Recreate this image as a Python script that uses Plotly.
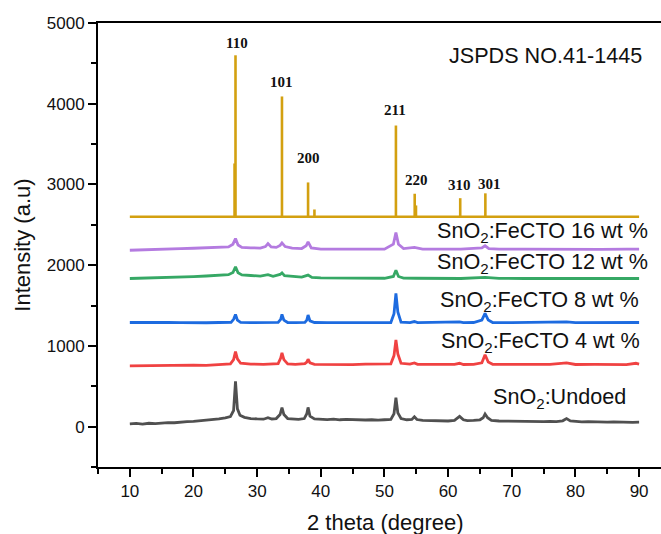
import plotly.graph_objects as go

# ---------------- data ----------------
undoped_x = [10, 11, 12, 13, 14, 15, 16, 17, 18, 19, 20, 21, 22, 23, 24, 25, 25.8, 26.3, 26.6, 26.9, 27.3, 28, 29, 30, 31, 31.7, 32.3, 33, 33.6, 33.9, 34.2, 34.8, 35.5, 36.5, 37.4, 37.8, 38.0, 38.3, 39, 40, 41, 42, 43, 44, 45, 46, 47, 48, 49, 50, 51, 51.5, 51.8, 52.1, 52.6, 53.5, 54.3, 54.7, 55.1, 56, 57, 58, 59, 60, 61, 61.8, 62.4, 63, 64, 65, 65.5, 65.8, 66.2, 66.8, 68, 69, 70, 71, 72, 73, 74, 75, 76, 77, 78, 78.6, 79.2, 80, 81, 82, 83, 84, 85, 86, 87, 88, 89, 90]
undoped_y = [35, 40, 30, 42, 38, 45, 50, 48, 58, 62, 65, 72, 78, 88, 95, 110, 125, 200, 560, 220, 140, 115, 100, 95, 92, 110, 95, 100, 150, 235, 150, 100, 95, 90, 100, 160, 238, 130, 95, 90, 88, 92, 85, 90, 85, 88, 82, 85, 80, 85, 90, 160, 360, 170, 100, 85, 90, 122, 88, 78, 75, 72, 70, 70, 78, 127, 85, 75, 78, 85, 110, 157, 110, 78, 70, 68, 65, 68, 65, 62, 65, 62, 65, 62, 72, 99, 70, 62, 60, 62, 58, 60, 56, 58, 55, 56, 54, 55]

w4_x = [10, 12, 14, 16, 18, 20, 22, 24, 25.8, 26.3, 26.6, 26.9, 27.4, 29, 31, 33.3, 33.7, 33.9, 34.2, 34.8, 36, 37.5, 37.8, 38.0, 38.3, 39, 41, 43, 45, 47, 49, 51, 51.5, 51.8, 52.1, 52.6, 54, 54.7, 55.2, 57, 59, 61, 61.8, 62.4, 64, 65.3, 65.8, 66.3, 67, 70, 73, 76, 78.6, 80, 83, 86, 88, 89.5, 90]
w4_y = [752, 755, 750, 758, 756, 762, 760, 770, 778, 830, 930, 840, 785, 775, 772, 780, 850, 915, 830, 778, 772, 780, 800, 835, 790, 772, 770, 775, 768, 775, 772, 778, 880, 1075, 900, 785, 775, 790, 772, 770, 775, 772, 785, 770, 772, 790, 890, 800, 772, 770, 775, 772, 790, 770, 772, 770, 768, 785, 775]

w8_x = [10, 12, 14, 16, 18, 20, 22, 24, 25.9, 26.3, 26.6, 26.9, 27.4, 29, 31, 33.3, 33.7, 33.9, 34.2, 34.8, 36, 37.5, 37.8, 38.0, 38.3, 39, 41, 43, 45, 47, 49, 51, 51.5, 51.8, 52.1, 52.6, 54, 54.7, 55.2, 57, 59, 61, 61.8, 62.4, 64, 65.3, 65.8, 66.3, 67, 70, 73, 76, 78.6, 80, 83, 86, 88, 90]
w8_y = [1290, 1292, 1286, 1290, 1288, 1292, 1287, 1290, 1292, 1330, 1390, 1320, 1292, 1288, 1290, 1292, 1330, 1390, 1320, 1290, 1288, 1292, 1320, 1383, 1310, 1290, 1288, 1290, 1287, 1292, 1288, 1290, 1400, 1650, 1420, 1295, 1288, 1302, 1288, 1290, 1287, 1290, 1298, 1288, 1290, 1320, 1404, 1320, 1290, 1288, 1292, 1288, 1298, 1288, 1290, 1288, 1290, 1290]

w12_x = [10, 12, 14, 16, 18, 20, 22, 24, 25.5, 26.2, 26.6, 27.0, 27.6, 29, 30.5, 31.7, 32.5, 33.6, 33.9, 34.3, 35.5, 37.0, 38.0, 38.6, 40, 42, 44, 46, 48, 50, 51.4, 51.8, 52.2, 53, 55, 57, 60, 62, 65.8, 68, 72, 76, 80, 84, 88, 90]
w12_y = [1835, 1838, 1840, 1845, 1852, 1858, 1866, 1875, 1882, 1910, 1980, 1905, 1880, 1872, 1865, 1882, 1862, 1885, 1905, 1870, 1858, 1852, 1877, 1848, 1842, 1840, 1838, 1840, 1836, 1838, 1860, 1938, 1860, 1840, 1838, 1836, 1838, 1835, 1848, 1836, 1835, 1837, 1835, 1836, 1834, 1835]

w16_x = [10, 12, 14, 16, 18, 20, 22, 24, 25.5, 26.2, 26.6, 27.0, 27.6, 29, 30.5, 31.3, 31.7, 32.2, 33.0, 33.6, 33.9, 34.4, 35.5, 37.0, 37.7, 38.0, 38.5, 40, 42, 44, 46, 48, 50, 51.4, 51.8, 52.2, 53, 54.7, 56, 58, 60, 62, 65.3, 65.8, 66.4, 68, 72, 76, 80, 84, 88, 90]
w16_y = [2185, 2188, 2192, 2198, 2204, 2210, 2215, 2220, 2226, 2260, 2330, 2250, 2220, 2215, 2212, 2230, 2268, 2225, 2220, 2245, 2276, 2230, 2210, 2206, 2240, 2288, 2215, 2200, 2198, 2196, 2198, 2195, 2198, 2260, 2404, 2260, 2205, 2220, 2200, 2198, 2196, 2200, 2215, 2240, 2205, 2198, 2200, 2196, 2199, 2197, 2198, 2198]

ref_baseline = 2600
ref_range = [10, 90]
stick_pos = [26.45, 26.6, 33.9, 38.0, 39.0, 51.8, 54.75, 54.95, 61.9, 65.85]
stick_top = [3260, 4600, 4090, 3025, 2690, 3730, 2885, 2740, 2830, 2890]

hkl_labels = ["110", "101", "200", "211", "220", "310", "301"]
hkl_x = [26.86, 33.77, 38.0, 51.65, 55.06, 61.72, 66.54]
hkl_y = [4753, 4275, 3330, 3923, 3053, 2995, 3004]

series_names = ["SnO<sub>2</sub>:Undoed", "SnO<sub>2</sub>:FeCTO 4 wt %", "SnO<sub>2</sub>:FeCTO 8 wt %",
                "SnO<sub>2</sub>:FeCTO 12 wt %", "SnO<sub>2</sub>:FeCTO 16 wt %"]
label_x = [66.7, 58.57, 58.46, 57.94, 57.94]
label_y = [358, 1050, 1560, 2029, 2413]

x_ticks = [10, 20, 30, 40, 50, 60, 70, 80, 90]
y_ticks = [0, 1000, 2000, 3000, 4000, 5000]

# ---------------- figure ----------------
colors = ["#505050", "#F04242", "#1D6BE0", "#36A865", "#B47BE0"]
series = [(undoped_x, undoped_y), (w4_x, w4_y), (w8_x, w8_y), (w12_x, w12_y), (w16_x, w16_y)]

fig = go.Figure()
for (sx, sy), c in zip(series, colors):
    fig.add_trace(go.Scatter(x=sx, y=sy, mode="lines", line=dict(color=c, width=2.8), showlegend=False))

gold = "#D3A010"
fig.add_trace(go.Scatter(x=ref_range, y=[ref_baseline, ref_baseline], mode="lines",
                         line=dict(color=gold, width=2.6), showlegend=False))
sx, sy = [], []
for p, t in zip(stick_pos, stick_top):
    sx += [p, p, None]
    sy += [ref_baseline, t, None]
fig.add_trace(go.Scatter(x=sx, y=sy, mode="lines", line=dict(color=gold, width=2.6), showlegend=False))

for t, x, y in zip(hkl_labels, hkl_x, hkl_y):
    fig.add_annotation(x=x, y=y, text="<b>" + t + "</b>", showarrow=False, xanchor="center", yanchor="middle",
                       font=dict(family="Liberation Serif", size=15, color="#111"))

for t, x, y in zip(series_names, label_x, label_y):
    fig.add_annotation(x=x, y=y, text=t, showarrow=False, xanchor="left", yanchor="middle",
                       font=dict(family="Liberation Sans, Arial", size=21.6, color="#111"))

fig.add_annotation(x=59.83, y=4597, text="JSPDS NO.41-1445", showarrow=False, xanchor="left", yanchor="middle",
                   font=dict(family="Liberation Sans, Arial", size=21.6, color="#111"))

fig.add_annotation(xref="paper", yref="paper", x=0.51, y=-0.124, text="2 theta (degree)", showarrow=False,
                   xanchor="center", yanchor="middle", font=dict(family="Liberation Sans, Arial", size=22, color="#111"))
fig.add_annotation(xref="paper", yref="paper", x=-0.1355, y=0.5, text="Intensity (a.u)", showarrow=False,
                   textangle=-90, xanchor="center", yanchor="middle",
                   font=dict(family="Liberation Sans, Arial", size=22, color="#111"))

fig.update_layout(
    width=661, height=534,
    margin=dict(l=98, r=0, t=23, b=67),
    plot_bgcolor="white", paper_bgcolor="white",
    font=dict(family="Liberation Sans, Arial", size=17, color="#111"),
)
fig.update_xaxes(range=[5, 93.44], tickvals=x_ticks, ticks="outside", ticklen=8, tickwidth=2,
                 showline=True, linecolor="black", linewidth=2, mirror=True, showgrid=False, zeroline=False,
                 minor=dict(dtick=5, tick0=0, ticks="outside", ticklen=5, tickwidth=2, tickcolor="black"),
                 tickcolor="black")
fig.update_yaxes(range=[-500, 5000], tickvals=y_ticks, ticks="outside", ticklen=8, tickwidth=2,
                 showline=True, linecolor="black", linewidth=2, mirror=False, showgrid=False, zeroline=False,
                 minor=dict(dtick=500, tick0=0, ticks="outside", ticklen=5, tickwidth=2, tickcolor="black"),
                 tickcolor="black")

fig.write_html("out.html")
